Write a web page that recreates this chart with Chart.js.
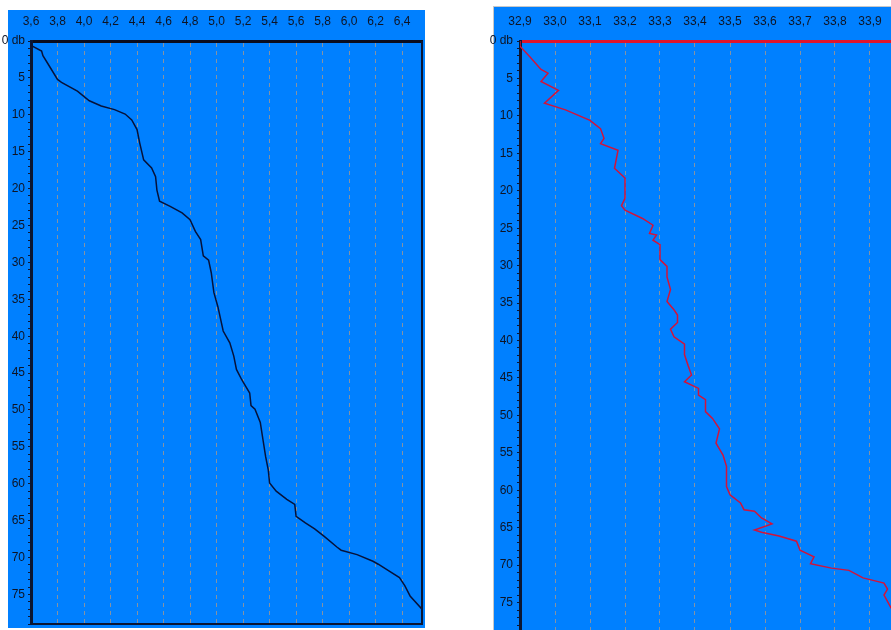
<!DOCTYPE html>
<html>
<head>
<meta charset="utf-8">
<script src="https://cdn.jsdelivr.net/npm/chart.js@4.4.1/dist/chart.umd.min.js"></script>
<style>
  html, body { margin: 0; padding: 0; background: #ffffff; overflow: hidden; width: 891px; height: 630px; }
  .wrap { position: absolute; }
  .blue { position: absolute; background: #0080ff; }
  .wrap canvas { position: absolute; left: 0; top: 0; display: block; }
  #leftWrap { left: 0; top: 10px; }
  #leftWrap .blue { left: 8px; top: 0; width: 417px; height: 618px; }
  #rightWrap { left: 480px; top: 6px; }
  #rightWrap .blue { left: 13px; top: 0; width: 420px; height: 640px; border-top: 1px solid #c8c8c8; border-left: 1px solid #c8c8c8; }
</style>
</head>
<body>
<div class="wrap" id="leftWrap"><div class="blue"></div><canvas id="tempChart" width="425" height="630"></canvas></div>
<div class="wrap" id="rightWrap"><div class="blue"></div><canvas id="salChart" width="428" height="660"></canvas></div>

<script>
// temperature profile (left panel)
var tempDepth = [0, 0.6, 1.35, 2.0, 3.15, 5.2, 5.6, 6.8, 8.1, 8.8, 9.3, 9.9, 10.7, 12.0, 13.8,
  16.1, 17.2, 18.4, 20.2, 21.7, 22.4, 23.3, 24.2, 25.8, 26.9, 29.1, 29.7, 31.4, 34.1, 36.0,
  39.3, 40.9, 42.7, 44.5, 45.9, 46.8, 47.7, 49.4, 49.9, 51.7, 54.0, 56.3, 58.1, 59.9, 61.0,
  62.1, 62.8, 64.4, 65.3, 66.1, 67.1, 68.6, 69.0, 69.6, 70.5, 70.9, 71.8, 72.7, 73.8, 75.2,
  77.0, 78.0];
var temperature = [3.60, 3.60, 3.68, 3.69, 3.73, 3.80, 3.83, 3.95, 4.04, 4.13, 4.23, 4.31, 4.36, 4.40, 4.42,
  4.45, 4.51, 4.54, 4.55, 4.57, 4.65, 4.74, 4.80, 4.84, 4.88, 4.90, 4.94, 4.96, 4.98, 5.01,
  5.05, 5.10, 5.13, 5.15, 5.19, 5.22, 5.25, 5.26, 5.29, 5.33, 5.35, 5.37, 5.39, 5.40, 5.45,
  5.53, 5.59, 5.60, 5.67, 5.74, 5.81, 5.91, 5.94, 6.06, 6.18, 6.22, 6.30, 6.38, 6.42, 6.46,
  6.55, 6.62];
var tempTicks = [3.6, 3.8, 4.0, 4.2, 4.4, 4.6, 4.8, 5.0, 5.2, 5.4, 5.6, 5.8, 6.0, 6.2, 6.4];

// salinity profile (right panel)
var salDepth = [0, 0.7, 2.2, 3.8, 4.3, 5.4, 6.6, 8.3, 9.2, 10.6, 11.7, 13.0, 13.7, 14.6, 17.0,
  18.3, 19.9, 21.0, 22.0, 22.6, 23.7, 24.6, 25.7, 25.9, 26.6, 27.2, 28.8, 29.2, 30.1, 31.5,
  33.2, 34.8, 35.9, 36.6, 37.6, 38.5, 39.5, 40.5, 41.9, 43.3, 44.6, 45.5, 46.4, 47.3, 47.9,
  49.5, 50.4, 51.8, 53.7, 55.3, 56.8, 59.5, 60.6, 61.7, 62.6, 62.8, 63.7, 64.5, 65.3, 65.6,
  66.1, 66.8, 68.0, 68.9, 69.8, 70.4, 70.7, 71.7, 72.4, 73.2, 74.0, 75.7, 78.0];
var salinity = [32.90, 32.90, 32.93, 32.96, 32.98, 32.96, 33.01, 32.97, 33.03, 33.10, 33.13, 33.14, 33.13, 33.18, 33.17,
  33.20, 33.20, 33.20, 33.19, 33.20, 33.25, 33.28, 33.27, 33.29, 33.28, 33.30, 33.30, 33.30, 33.32, 33.32,
  33.33, 33.32, 33.34, 33.35, 33.35, 33.33, 33.34, 33.37, 33.37, 33.38, 33.39, 33.37, 33.41, 33.41, 33.43,
  33.43, 33.45, 33.47, 33.46, 33.48, 33.49, 33.49, 33.50, 33.53, 33.54, 33.57, 33.59, 33.62, 33.57, 33.59,
  33.64, 33.69, 33.70, 33.74, 33.73, 33.79, 33.84, 33.88, 33.94, 33.95, 33.94, 33.96, 34.00];
var salTicks = [32.9, 33.0, 33.1, 33.2, 33.3, 33.4, 33.5, 33.6, 33.7, 33.8, 33.9];

var AXIS_DARK = "#0b1633";

Chart.defaults.font.family = "'Liberation Sans Narrow', 'Liberation Sans', Arial, sans-serif";
Chart.defaults.font.size = 12;
Chart.defaults.color = "#0e1424";

// draws the right and bottom frame of the plot area
var frame = {
  id: "frame",
  afterDraw: function(chart) {
    var a = chart.chartArea;
    var ctx = chart.ctx;
    ctx.save();
    ctx.strokeStyle = AXIS_DARK;
    ctx.lineWidth = 2;
    ctx.beginPath();
    ctx.moveTo(a.right, a.top);
    ctx.lineTo(a.right, a.bottom);
    ctx.lineTo(a.left, a.bottom);
    ctx.stroke();
    ctx.restore();
  }
};

function makeProfile(id, xs, depths, s) {
  var points = xs.map(function(x, i) { return { x: x, y: depths[i] }; });
  return new Chart(document.getElementById(id), {
    type: "scatter",
    data: {
      datasets: [{
        data: points,
        showLine: true,
        borderColor: s.lineColor,
        borderWidth: 1.5,
        pointRadius: 0,
        tension: 0
      }]
    },
    options: {
      responsive: false,
      animation: false,
      layout: { padding: { left: 0, top: 0, right: 3, bottom: s.padBottom } },
      plugins: { legend: { display: false }, tooltip: { enabled: false } },
      scales: {
        x: {
          type: "linear",
          position: "top",
          min: s.xMin,
          max: s.xMax,
          afterBuildTicks: function(scale) {
            scale.ticks = s.ticks.map(function(v) { return { value: v }; });
          },
          afterFit: function(scale) { scale.height = s.xHeight; },
          ticks: {
            padding: 12,
            maxRotation: 0,
            autoSkip: false,
            callback: function(v) { return v.toFixed(1).replace(".", ","); }
          },
          grid: { color: "#8593a3", lineWidth: 1, drawTicks: false },
          border: { display: true, color: s.topColor, width: 3, dash: [4, 4] }
        },
        y: {
          type: "linear",
          reverse: true,
          min: 0,
          max: s.yMax,
          afterFit: function(scale) { scale.width = s.yWidth; },
          ticks: {
            stepSize: 1,
            maxTicksLimit: 200,
            autoSkip: false,
            padding: s.yPad,
            callback: function(v) {
              if (v === 0) return "0 db";
              return v % 5 === 0 ? String(v) : "";
            }
          },
          grid: { drawOnChartArea: false, tickLength: 3, tickColor: AXIS_DARK, lineWidth: 1 },
          border: { display: true, color: AXIS_DARK, width: 3 }
        }
      }
    },
    plugins: [frame]
  });
}

makeProfile("tempChart", temperature, tempDepth, {
  lineColor: "#06123a", topColor: "#0a0d1e", ticks: tempTicks,
  xMin: 3.6, xMax: 6.55, yMax: 79, xHeight: 31, yWidth: 31, yPad: 3, padBottom: 16
});

makeProfile("salChart", salinity, salDepth, {
  lineColor: "#d0143c", topColor: "#e0142c", ticks: salTicks,
  xMin: 32.9, xMax: 34.0, yMax: 80, xHeight: 35, yWidth: 40, yPad: 4, padBottom: 26
});
</script>
</body>
</html>
